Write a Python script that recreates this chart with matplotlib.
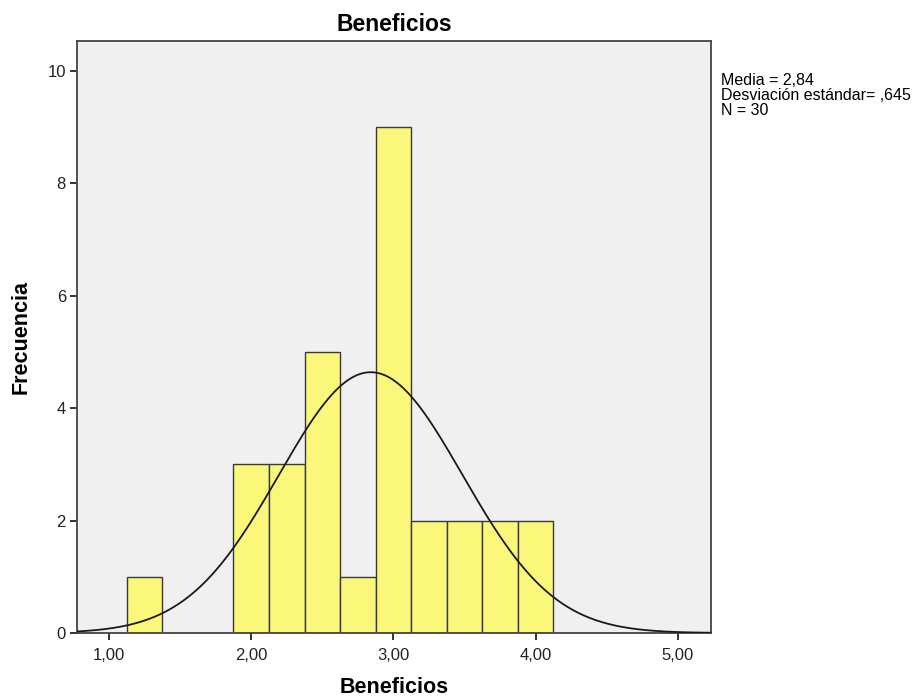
import numpy as np
import matplotlib.pyplot as plt

plt.rcParams['font.family'] = ['Liberation Sans', 'DejaVu Sans']

# histogram bins (centers) and counts
bin_centers = [1.25, 2.00, 2.25, 2.50, 2.75, 3.00, 3.25, 3.50, 3.75, 4.00]
counts = [1, 3, 3, 5, 1, 9, 2, 2, 2, 2]
bin_width = 0.25

media = 2.84
desv = 0.645
n = 30

x_ticks = [1, 2, 3, 4, 5]
x_labels = ['1,00', '2,00', '3,00', '4,00', '5,00']
y_ticks = [0, 2, 4, 6, 8, 10]

fig = plt.figure(figsize=(9.22, 6.97), dpi=100)
ax = fig.add_axes([0.0835, 0.0918, 0.6876, 0.8494])
ax.set_facecolor('#f0f0f0')

ax.bar(bin_centers, counts, width=bin_width, color='#faf77a',
       edgecolor='#3a3a3a', linewidth=1.0, zorder=2)

# curva normal ajustada
xs = np.linspace(0.775, 5.232, 400)
ys = n * bin_width / (desv * np.sqrt(2 * np.pi)) * np.exp(-0.5 * ((xs - media) / desv) ** 2)
ax.plot(xs, ys, color='#1a1a1a', linewidth=1.3, zorder=3)

ax.set_xlim(0.775, 5.232)
ax.set_ylim(0, 10.53)
ax.set_xticks(x_ticks)
ax.set_xticklabels(x_labels)
ax.set_yticks(y_ticks)
ax.tick_params(axis='both', direction='out', length=5, width=1.3,
               labelsize=12, colors='#222222', pad=3)
ax.tick_params(axis='x', pad=6)
ax.tick_params(top=False, right=False)
for s in ax.spines.values():
    s.set_color('#444444')
    s.set_linewidth(1.3)

ax.set_title('Beneficios', fontsize=16.5, fontweight='bold', pad=7)
ax.set_xlabel('Beneficios', fontsize=15.5, fontweight='bold', labelpad=10)
ax.set_ylabel('Frecuencia', fontsize=15.5, fontweight='bold', labelpad=11)

fig.text(0.782, 0.895, 'Media = 2,84\nDesviación estándar= ,645\nN = 30',
         fontsize=11.5, va='top', ha='left', linespacing=0.98)

fig.savefig('out.png', dpi=100)
